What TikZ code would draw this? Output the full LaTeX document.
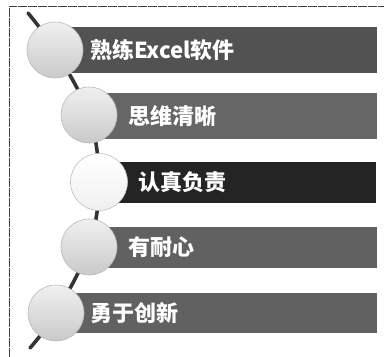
\documentclass[tikz,border=0pt]{standalone}
\usepackage{fontspec}
\newfontfamily\cjk{Noto Sans CJK SC}
\begin{document}
\begin{tikzpicture}[x=1pt,y=-1pt,
  bar/.style={fill=#1, draw=none},
  ball/.style={circle, minimum size=56pt, inner sep=0pt, draw=gray!55, line width=0.6pt,
     top color=gray!12, bottom color=gray!42},
  wball/.style={circle, minimum size=57pt, inner sep=0pt, draw=gray!50, line width=0.6pt,
     top color=white, bottom color=gray!12},
  lbl/.style={anchor=west, text=white, font=\cjk\bfseries\fontsize{22}{24}\selectfont, inner sep=0pt},
  frameline/.style={draw=black!75, line width=0.9pt, dash pattern=on 9pt off 1pt}
]
\useasboundingbox (0,0) rectangle (384,357);
\fill[white] (0,0) rectangle (384,357);
\draw[frameline] (9,357) -- (9,6) -- (384,6);

% spine
\coordinate (c1) at (55,50);
\coordinate (c2) at (89,115);
\coordinate (c3) at (99,182);
\coordinate (c4) at (89,247);
\coordinate (c5) at (56,313);
\draw[line width=3.6pt, color=black!80, line cap=round]
  plot[smooth, tension=0.6] coordinates {(28,13) (55,50) (89,115) (99,182) (89,247) (56,313) (30,348)};

% bars
\fill[bar=black!68] (55,27) rectangle (377,73);
\fill[bar=black!60] (89,93) rectangle (377,139);
\fill[bar=black!86] (99,162) rectangle (376,203);
\fill[bar=black!62] (89,227) rectangle (377,268);
\fill[bar=black!62] (56,293) rectangle (377,333);

% balls
\node[ball] (b1) at (c1) {};
\node[ball] (b2) at (c2) {};
\node[wball] (b3) at (c3) {};
\node[ball] (b4) at (c4) {};
\node[ball] (b5) at (c5) {};

% labels
\node[lbl] (t1) at (90,50) {熟练Excel软件};
\node[lbl] (t2) at (128,116) {思维清晰};
\node[lbl] (t3) at (138,182) {认真负责};
\node[lbl] (t4) at (128,247) {有耐心};
\node[lbl] (t5) at (90,313) {勇于创新};
\end{tikzpicture}
\end{document}
